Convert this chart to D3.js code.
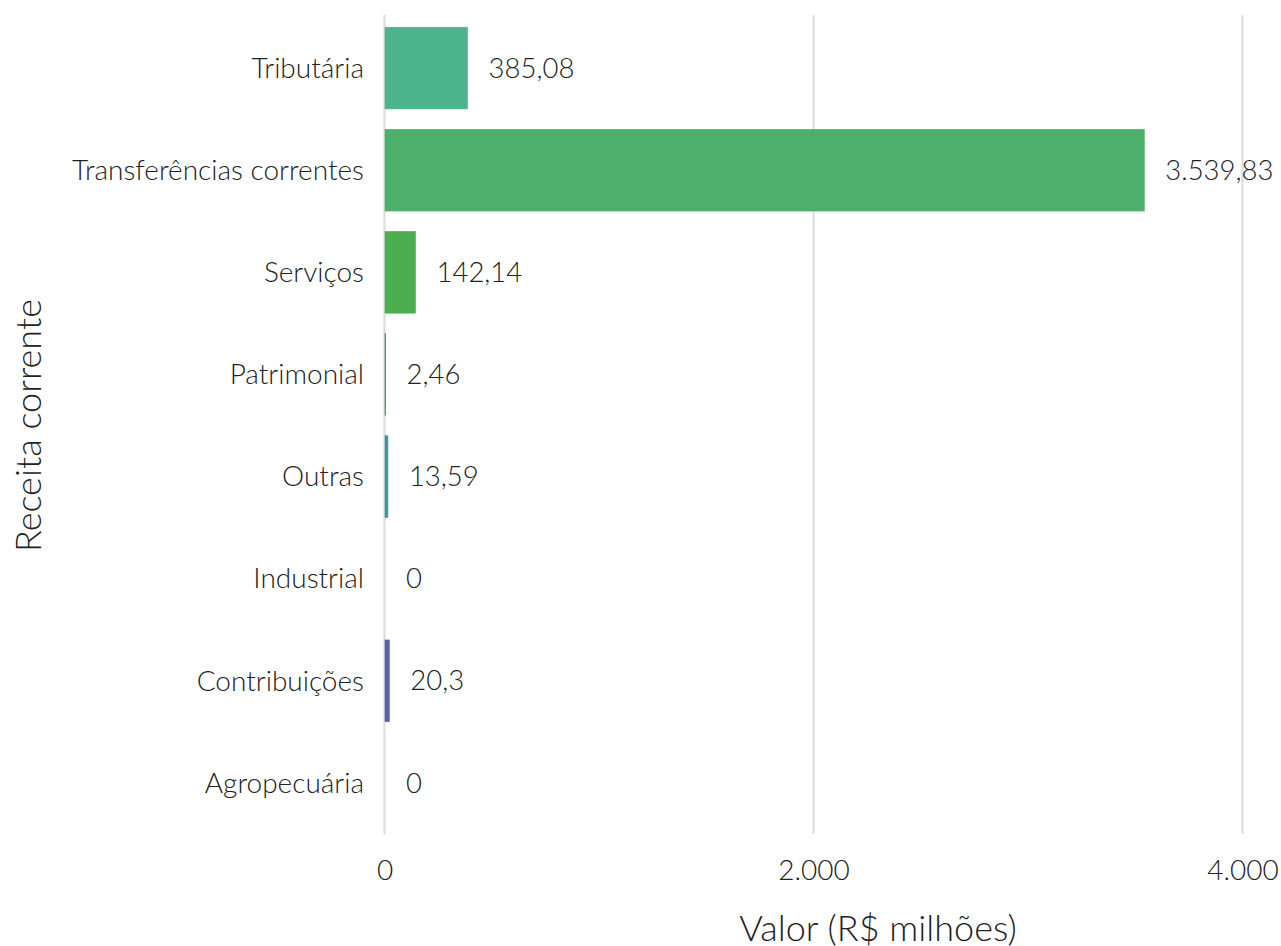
<!DOCTYPE html>
<html>
<head>
<meta charset="utf-8">
<script src="https://cdn.jsdelivr.net/npm/d3@7"></script>
<style>
  html, body { margin: 0; padding: 0; background: #fff; }
  svg text { font-family: "Lato Light", Lato, "Open Sans", sans-serif; font-weight: 300; fill: #222; }
</style>
</head>
<body>
<svg id="chart" width="1281" height="946"></svg>
<script>
// Receitas correntes por origem (R$ milhões)
const categories = ["Tributária", "Transferências correntes", "Serviços", "Patrimonial",
                    "Outras", "Industrial", "Contribuições", "Agropecuária"];
const values = [385.08, 3539.83, 142.14, 2.46, 13.59, 0, 20.3, 0];
const valueLabels = ["385,08", "3.539,83", "142,14", "2,46", "13,59", "0", "20,3", "0"];
const barColors = ["#4db38d", "#4caf6c", "#4caf4f", "#2e8b57", "#3a9899", "#a9b4c2", "#5a62b6", "#a9b4c2"];
const xTicks = [0, 2000, 4000];
const xTickLabels = ["0", "2.000", "4.000"];

const svg = d3.select("#chart");
const plotLeft = 385, plotRight = 1243, plotTop = 17, plotBottom = 834;

const x = d3.scaleLinear().domain([0, 4000]).range([plotLeft, plotRight]);
const y = d3.scaleBand().domain(categories).range([plotTop, plotBottom])
  .paddingInner(0.2).paddingOuter(0.1);

// vertical gridlines
svg.append("g").selectAll("line").data(xTicks).join("line")
  .attr("x1", d => x(d) - 0.5).attr("x2", d => x(d) - 0.5)
  .attr("y1", 15).attr("y2", 834)
  .attr("stroke", "#dcdcdc").attr("stroke-width", 2);

// bars
svg.append("g").selectAll("rect").data(categories).join("rect")
  .attr("x", x(0))
  .attr("y", d => y(d))
  .attr("width", (d, i) => x(values[i]) - x(0))
  .attr("height", y.bandwidth())
  .attr("fill", (d, i) => barColors[i])
  .attr("stroke", (d, i) => barColors[i])
  .attr("stroke-width", 0.6);

// value labels
svg.append("g").selectAll("text").data(categories).join("text")
  .attr("x", (d, i) => x(values[i]) + 21)
  .attr("y", d => y(d) + y.bandwidth() / 2)
  .attr("dy", "0.35em")
  .attr("font-size", 27.5)
  .text((d, i) => valueLabels[i]);

// category axis labels
svg.append("g").selectAll("text").data(categories).join("text")
  .attr("x", 364)
  .attr("y", d => y(d) + y.bandwidth() / 2)
  .attr("dy", "0.35em")
  .attr("text-anchor", "end")
  .attr("font-size", 28)
  .text(d => d);

// value axis tick labels
svg.append("g").selectAll("text").data(xTicks).join("text")
  .attr("x", d => x(d))
  .attr("y", 870)
  .attr("dy", "0.35em")
  .attr("text-anchor", "middle")
  .attr("font-size", 28)
  .text((d, i) => xTickLabels[i]);

// axis titles
svg.append("text")
  .attr("x", 878).attr("y", 928).attr("dy", "0.35em")
  .attr("text-anchor", "middle").attr("font-size", 36)
  .text("Valor (R$ milhões)");

svg.append("text")
  .attr("transform", "translate(28," + ((plotTop + plotBottom) / 2) + ") rotate(-90)")
  .attr("dy", "0.35em")
  .attr("text-anchor", "middle").attr("font-size", 36)
  .text("Receita corrente");
</script>
</body>
</html>
